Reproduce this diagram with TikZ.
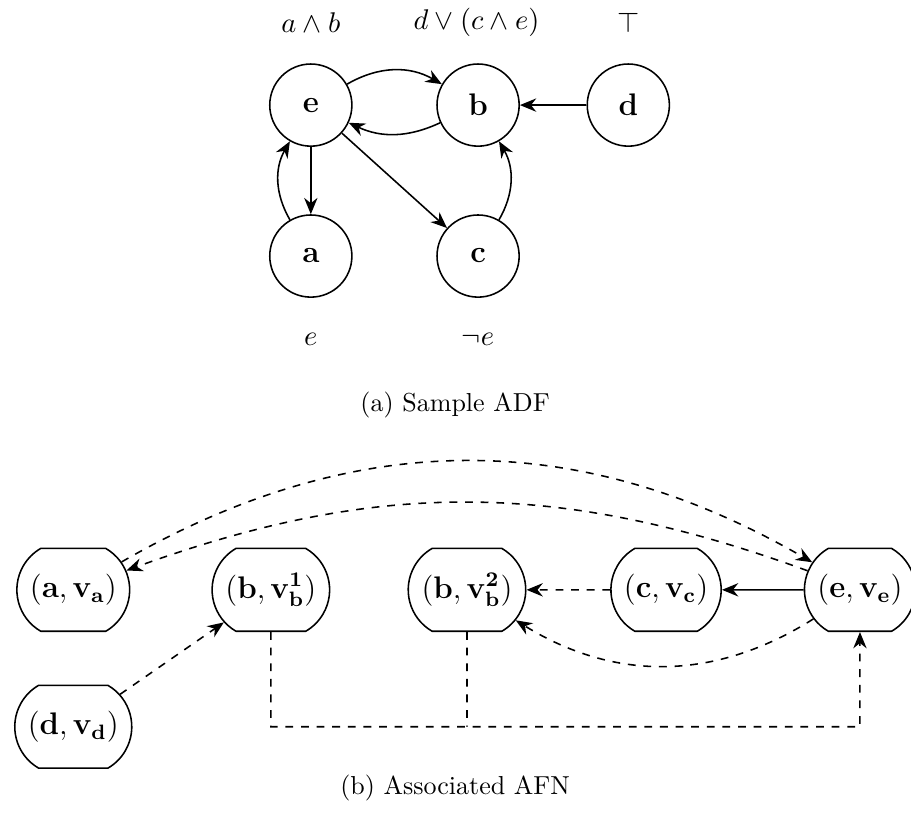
\documentclass[tikz,border=0pt]{standalone}
\usepackage{amsmath, amssymb}
\usetikzlibrary{arrows.meta, shapes.misc}

\begin{document}
\begin{tikzpicture}[
    stmt/.style={circle, draw, semithick, minimum size=1.11cm, inner sep=0pt, font=\large},
    cond/.style={font=\fontsize{11}{13}\selectfont},
    pairnode/.style={rounded rectangle, rounded rectangle arc length=120, draw, semithick,
      line join=round, minimum height=1.12cm, inner xsep=4pt, font=\fontsize{11.5}{14}\selectfont},
    att/.style={-{Stealth[length=2.2mm, width=1.8mm]}, semithick},
    datt/.style={att, dashed}
  ]
  \useasboundingbox (0,0) rectangle (12.31,-11.03);

  % Sample ADF
  \node[stmt] (e) at (4.20,-1.42) {$\mathbf{e}$};
  \node[stmt] (b) at (6.46,-1.42) {$\mathbf{b}$};
  \node[stmt] (d) at (8.49,-1.42) {$\mathbf{d}$};
  \node[stmt] (a) at (4.20,-3.46) {$\mathbf{a}$};
  \node[stmt] (c) at (6.46,-3.46) {$\mathbf{c}$};

  % acceptance conditions
  \node[cond] (acce) at (4.20,-0.30) {$a \wedge b$};
  \node[cond] (accb) at (6.44,-0.30) {$d \vee (c \wedge e)$};
  \node[cond] (accd) at (8.49,-0.30) {$\top$};
  \node[cond] (acca) at (4.20,-4.59) {$e$};
  \node[cond] (accc) at (6.46,-4.59) {$\neg e$};

  \draw[att] (e) to[bend left=30] (b);
  \draw[att] (b) to[bend left=25] (e);
  \draw[att] (d) -- (b);
  \draw[att] (e) -- (a);
  \draw[att] (a) to[bend left=30] (e);
  \draw[att] (e) -- (c);
  \draw[att] (c) to[bend right=30] (b);

  \node (capa) at (6.15,-5.47) {(a) Sample ADF};

  % Associated AFN
  \node[pairnode] (av) at (0.99,-7.97) {$(\mathbf{a},\mathbf{v_a})$};
  \node[pairnode] (bv1) at (3.66,-7.97) {$(\mathbf{b},\mathbf{v^1_b})$};
  \node[pairnode] (bv2) at (6.31,-7.97) {$(\mathbf{b},\mathbf{v^2_b})$};
  \node[pairnode] (cv) at (9.00,-7.97) {$(\mathbf{c},\mathbf{v_c})$};
  \node[pairnode] (ev) at (11.62,-7.97) {$(\mathbf{e},\mathbf{v_e})$};
  \node[pairnode] (dv) at (0.99,-9.82) {$(\mathbf{d},\mathbf{v_d})$};

  \draw[datt] (av) to[bend left=30] (ev);
  \draw[datt] (ev) to[bend right=20] (av);
  \draw[att] (ev) -- (cv);
  \draw[datt] (cv) -- (bv2);
  \draw[datt] (ev) to[bend left=32] (bv2);
  \draw[datt] (dv) -- (bv1);
  \draw[datt] (bv1) -- (bv1 |- dv) -- (ev |- dv) -- (ev);
  \draw[dashed, semithick] (bv2) -- (bv2 |- dv);

  \node (capb) at (6.15,-10.65) {(b) Associated AFN};
\end{tikzpicture}
\end{document}
